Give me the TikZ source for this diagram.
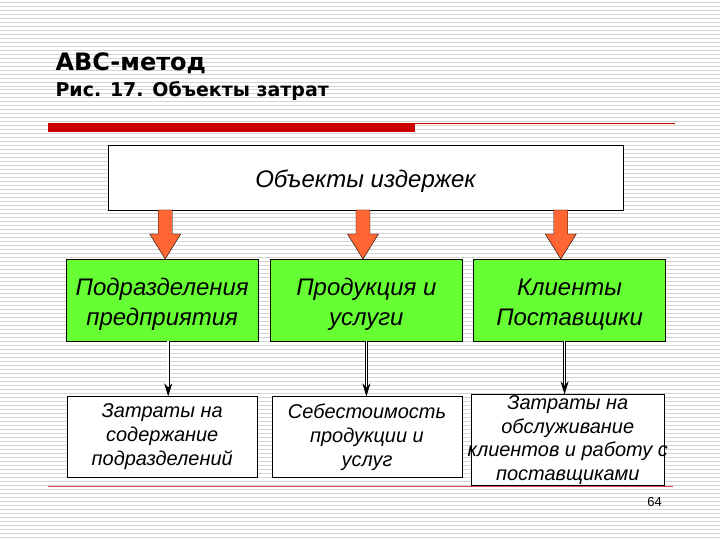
\documentclass[tikz,border=0pt]{standalone}
\usepackage{fontspec}
\setmainfont{Liberation Sans}
\newfontfamily\headfont{DejaVu Sans}
\usetikzlibrary{arrows.meta,positioning,calc}
\definecolor{slidered}{HTML}{CC0000}
\definecolor{boxgreen}{HTML}{66FF33}
\definecolor{arroworange}{HTML}{FF6633}
\definecolor{stripegray}{HTML}{D4D4D4}

\begin{document}
\begin{tikzpicture}[
    x=1pt, y=-1pt,
    node distance=12pt,
    topbox/.style={draw, fill=white, minimum width=515pt, minimum height=65pt, inner sep=0pt, text height=25pt, text depth=5pt, font=\itshape\fontsize{24}{28}\selectfont},
    unitbox/.style={draw, fill=boxgreen, align=center, minimum width=192pt, minimum height=82pt, inner sep=0pt, text height=55pt, font=\itshape\fontsize{24}{30}\selectfont},
    costbox/.style={draw, fill=white, align=center, minimum width=190pt, minimum height=81pt, inner sep=0pt, font=\itshape\fontsize{20}{24}\selectfont},
    fatarrow/.style={draw=black, fill=arroworange, line join=miter},
    arrow/.style={-{Stealth[length=13pt, width=8pt, inset=4pt]}, double, double distance=1.6pt, line width=0.8pt}
]
% striped slide background
\fill[white] (0,0) rectangle (720,540);
\foreach \y in {2,6,...,538}
  \draw[stripegray, line width=0.8pt] (0,\y) -- (720,\y);
\useasboundingbox (0,0) rectangle (720,540);

% heading
\node[anchor=base west, inner sep=0pt, font=\headfont\bfseries\fontsize{24}{28}\selectfont] (title) at (55,71) {ABC-метод};
\node[anchor=base west, inner sep=0pt, font=\headfont\bfseries\fontsize{19}{22}\selectfont] (subtitle) at (55,97) {Рис. 17. Объекты затрат};

% red rules
\fill[slidered] (48,123) rectangle (415,132);
\draw[slidered, line width=1pt] (415,123.5) -- (675,123.5);
\draw[slidered!70, line width=0.8pt] (48,486.5) -- (673,486.5);

% boxes
\node[topbox] (top) at (365.5,177.5) {Объекты издержек};
\node[unitbox] (dep) at (162,300.5) {Подразделения\\предприятия};
\node[unitbox, right=of dep] (prod) {Продукция и\\услуги};
\node[unitbox, right=11pt of prod] (cli) {Клиенты\\Поставщики};
\node[costbox] (depcost) at (162,437.5) {Затраты на\\содержание\\подразделений};
\node[costbox] (prodcost) at (367,437.5) {Себестоимость\\продукции и\\услуг};
\node[costbox, minimum width=194pt, minimum height=91pt, font=\itshape\fontsize{20}{23.5}\selectfont] (clicost) at (568,440.5) {Затраты на\\обслуживание\\\makebox[0pt]{клиентов и работу с}\\поставщиками};
\node[inner sep=0pt, font=\fontsize{13}{15}\selectfont] (page) at (655,503) {64};

% fat arrows
\foreach \x/\c in {165/dep,363/prod,561/cli}{
  \coordinate (tip) at (\x,0 |- \c.north);
  \coordinate (tail) at (\x,0 |- top.south);
  \draw[fatarrow] ($(tail)+(-7,0)$) -- ($(tail)+(7,0)$) -- ($(tip)+(7,-25)$) -- ($(tip)+(15.5,-25)$) -- (tip) -- ($(tip)+(-15.5,-25)$) -- ($(tip)+(-7,-25)$) -- cycle;
}

% thin arrows
\foreach \a/\b/\s in {dep/depcost/6, prod/prodcost/0, cli/clicost/-5}
  \draw[arrow] ($(\a.south)+(\s,0)$) -- ($(\a.south |- \b.north)+(\s,0)$);
\end{tikzpicture}
\end{document}
